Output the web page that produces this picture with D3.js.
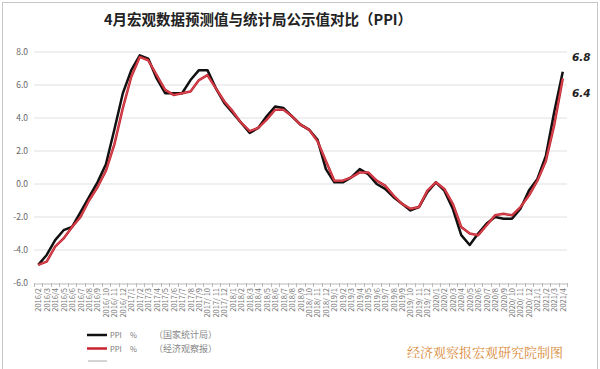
<!DOCTYPE html>
<html><head><meta charset="utf-8">
<script src="https://cdn.jsdelivr.net/npm/d3@7/dist/d3.min.js"></script>
<style>body{margin:0;background:#fff}svg{display:block}</style>
</head><body><svg id="c" width="600" height="369"></svg>
<script>
const months = [];
(function(){ let y=2016,m=2; while(!(y===2021&&m===5)){ months.push(y+"/"+m); m++; if(m>12){m=1;y++;} } })();
const actual = [-4.9,-4.3,-3.4,-2.8,-2.6,-1.7,-0.8,0.1,1.2,3.3,5.5,
 6.9,7.8,7.6,6.4,5.5,5.5,5.5,6.3,6.9,6.9,5.8,4.9,
 4.3,3.7,3.1,3.4,4.1,4.7,4.6,4.1,3.6,3.3,2.7,0.9,
 0.1,0.1,0.4,0.9,0.6,0.0,-0.3,-0.8,-1.2,-1.6,-1.4,-0.5,
 0.1,-0.4,-1.5,-3.1,-3.7,-3.0,-2.4,-2.0,-2.1,-2.1,-1.5,-0.4,
 0.3,1.7,4.4,6.8];
const forecast = [-4.9,-4.7,-3.8,-3.3,-2.6,-2.0,-1.0,-0.2,0.8,2.4,4.6,
 6.5,7.7,7.5,6.6,5.7,5.4,5.5,5.6,6.3,6.6,5.8,5.0,
 4.4,3.7,3.2,3.4,3.9,4.5,4.5,4.1,3.6,3.3,2.6,1.4,
 0.2,0.2,0.4,0.7,0.7,0.2,-0.1,-0.7,-1.2,-1.5,-1.4,-0.4,
 0.1,-0.3,-1.2,-2.6,-3.0,-3.1,-2.5,-1.9,-1.8,-1.9,-1.4,-0.7,
 0.2,1.4,3.6,6.4];
const yTicks = [-6,-4,-2,0,2,4,6,8];
const title = "4月宏观数据预测值与统计局公示值对比（PPI）";
const legendItems = [["PPI","%","（国家统计局）"],["PPI","%","（经济观察报）"]];
const credit = "经济观察报宏观研究院制图";

const svg = d3.select("#c");
const font = "'Noto Sans CJK SC','Noto Sans',sans-serif";
svg.append("rect").attr("x",2.5).attr("y",2.5).attr("width",595).attr("height",380)
  .attr("fill","#fff").attr("stroke","#c8c8c8");

const x = d3.scaleBand().domain(months).range([34,567]);
const y = d3.scaleLinear().domain([-6,8]).range([283,52]);

svg.append("text").attr("x",258).attr("y",25).attr("text-anchor","middle")
  .attr("font-family",font).attr("font-weight","bold").attr("font-size",14.5).attr("fill","#222").text(title);

// grid
svg.append("g").selectAll("line").data(yTicks.filter(d=>d!==-6)).join("line")
  .attr("x1",34).attr("x2",567).attr("y1",d=>y(d)).attr("y2",d=>y(d))
  .attr("stroke","#e0e0e0").attr("stroke-width",1);
// y labels
svg.append("g").selectAll("text").data(yTicks).join("text")
  .attr("x",28).attr("y",d=>y(d)+3).attr("text-anchor","end")
  .attr("font-family",font).attr("font-size",8.5).attr("fill","#666").text(d=>d.toFixed(1));

// x axis
const xa = svg.append("g").attr("transform","translate(0,283.5)")
  .call(d3.axisBottom(x).tickSize(0).tickFormat(""));
xa.select(".domain").attr("stroke","#bbb");
xa.selectAll(".tick").remove();
const bounds = months.map(m=>x(m)).concat([x(months[months.length-1])+x.bandwidth()]);
svg.append("g").selectAll("line").data(bounds).join("line")
  .attr("x1",d=>Math.round(d)+0.5).attr("x2",d=>Math.round(d)+0.5).attr("y1",283).attr("y2",287)
  .attr("stroke","#bbb");
svg.append("g").selectAll("text").data(months).join("text")
  .attr("transform",d=>`translate(${x(d)+x.bandwidth()/2+3},288) rotate(-90)`)
  .attr("text-anchor","end").attr("font-family",font).attr("font-size",7.5).attr("fill","#777")
  .text(d=>{const [a,b]=d.split("/"); return b.length>1? a+"/ "+b : d;});

const line = d3.line().x((d,i)=>x(months[i])+x.bandwidth()/2).y(d=>y(d));
svg.append("path").datum(actual).attr("d",line).attr("fill","none").attr("stroke","#111").attr("stroke-width",2.5).attr("stroke-linejoin","round");
svg.append("path").datum(forecast).attr("d",line).attr("fill","none").attr("stroke","#c4232f").attr("stroke-width",2.5).attr("stroke-linejoin","round");
svg.append("path").datum(forecast).attr("d",line).attr("fill","none").attr("stroke","#e0646c").attr("stroke-width",0.7).attr("stroke-linejoin","round");

svg.append("text").attr("x",572).attr("y",61).attr("font-family","'DejaVu Sans',sans-serif").attr("font-weight","bold").attr("font-style","italic").attr("font-size",10.5).attr("fill","#222").text(actual[actual.length-1].toFixed(1));
svg.append("text").attr("x",572).attr("y",97).attr("font-family","'DejaVu Sans',sans-serif").attr("font-weight","bold").attr("font-style","italic").attr("font-size",10.5).attr("fill","#222").text(forecast[forecast.length-1].toFixed(1));

// legend
const cols = ["#111","#c4232f"];
legendItems.forEach((it,i)=>{
  const ly = 335 + i*13.5;
  svg.append("line").attr("x1",87).attr("x2",107).attr("y1",ly).attr("y2",ly).attr("stroke",cols[i]).attr("stroke-width",2.5);
  svg.append("text").attr("x",110).attr("y",ly+3).attr("font-family",font).attr("font-size",7.5).attr("fill","#777").text(it[0]);
  svg.append("text").attr("x",130).attr("y",ly+3).attr("font-family",font).attr("font-size",7.5).attr("fill","#777").text(it[1]);
  svg.append("text").attr("x",154).attr("y",ly+3).attr("font-family",font).attr("font-size",9).attr("fill","#888").text(it[2]);
});
svg.append("line").attr("x1",88).attr("x2",107).attr("y1",361).attr("y2",361).attr("stroke","#aaa").attr("stroke-width",1);

svg.append("text").attr("x",407).attr("y",357).attr("font-family","'Noto Serif CJK SC','Noto Sans CJK SC',serif").attr("font-size",13).attr("fill","#d98b3a").text(credit);
</script></body></html>
